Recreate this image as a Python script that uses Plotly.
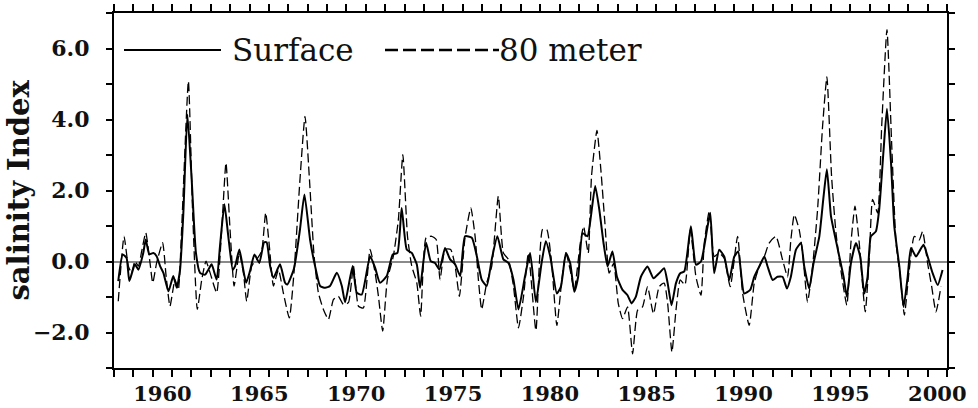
import plotly.graph_objects as go

# ---- data (decimal years, index values) ----
surface_years = [
    1957.72, 1957.95, 1958.15, 1958.29, 1958.58, 1958.76, 1959.01, 1959.14, 1959.32, 1959.53,
    1959.70, 1959.88, 1960.05, 1960.31, 1960.56, 1960.74, 1960.91, 1961.08, 1961.29, 1961.51,
    1961.73, 1961.94, 1962.20, 1962.37, 1962.54, 1962.80, 1962.97, 1963.20, 1963.40, 1963.63,
    1963.75, 1963.97, 1964.14, 1964.32, 1964.52, 1964.75, 1965.00, 1965.25, 1965.38, 1965.56,
    1965.73, 1966.07, 1966.33, 1966.45, 1966.79, 1967.10, 1967.33, 1967.62, 1967.88, 1968.14,
    1968.40, 1968.65, 1969.00, 1969.26, 1969.43, 1969.82, 1970.03, 1970.29, 1970.72, 1970.98,
    1971.23, 1971.58, 1971.89, 1972.13, 1972.35, 1972.61, 1972.87, 1973.13, 1973.30, 1973.61,
    1973.85, 1974.07, 1974.30, 1974.59, 1974.85, 1975.11, 1975.37, 1975.62, 1975.97, 1976.23,
    1976.48, 1976.74, 1977.00, 1977.29, 1977.60, 1977.86, 1978.12, 1978.38, 1978.72, 1978.98,
    1979.28, 1979.57, 1979.79, 1980.02, 1980.36, 1980.57, 1980.83, 1981.05, 1981.26, 1981.46,
    1981.69, 1981.94, 1982.12, 1982.34, 1982.55, 1982.77, 1982.98, 1983.23, 1983.46, 1983.75,
    1984.01, 1984.22, 1984.44, 1984.70, 1985.04, 1985.35, 1985.64, 1985.90, 1986.08, 1986.28,
    1986.51, 1986.73, 1986.94, 1987.28, 1987.54, 1987.80, 1988.14, 1988.28, 1988.48, 1988.74,
    1989.00, 1989.26, 1989.52, 1989.72, 1990.03, 1990.34, 1990.55, 1990.81, 1991.07, 1991.24,
    1991.50, 1991.75, 1992.01, 1992.24, 1992.44, 1992.70, 1992.96, 1993.13, 1993.39, 1993.61,
    1993.91, 1994.13, 1994.30, 1994.51, 1994.72, 1994.94, 1995.16, 1995.33, 1995.54, 1995.80,
    1996.02, 1996.23, 1996.40, 1996.57, 1996.83, 1997.00, 1997.23, 1997.40, 1997.61, 1997.78,
    1998.04, 1998.26, 1998.47, 1998.64, 1998.90, 1999.07, 1999.29, 1999.50, 1999.76, 2000.02,
    2000.27,
]
surface_values = [
    -0.55, 0.20, 0.10, -0.55, -0.08, -0.23, 0.24, 0.62, 0.20, 0.24,
    0.15, -0.13, -0.32, -0.84, -0.41, -0.74, -0.23, 1.37, 4.14, 2.31,
    0.24, -0.32, -0.37, -0.23, -0.08, -0.51, 0.43, 1.61, 0.71, -0.23,
    -0.13, 0.34, -0.13, -0.60, -0.27, 0.20, -0.04, 0.54, 0.54, -0.13,
    -0.46, -0.08, -0.60, -0.65, -0.20, 0.90, 1.89, 0.62, -0.13, -0.69,
    -0.74, -0.69, -0.32, -0.69, -1.15, -0.13, -0.88, -0.93, 0.15, -0.18,
    -0.60, -0.41, 0.20, 0.24, 1.51, 0.34, 0.24, -0.08, -0.74, 0.53,
    0.01, -0.04, -0.23, 0.38, 0.06, -0.08, -0.41, 0.71, 0.67, 0.15,
    -0.51, -0.69, 0.06, 0.71, 0.06, -0.04, -0.51, -1.35, -0.41, 0.24,
    -1.14, -0.05, 0.57, 0.14, -0.90, -0.71, 0.24, -0.05, -0.85, -0.43,
    0.80, 0.71, 1.28, 2.13, 1.47, 0.52, -0.14, 0.28, -0.43, -0.80,
    -0.95, -1.18, -0.99, -0.43, -0.14, -0.47, -0.33, -0.19, -0.61, -1.23,
    -0.61, -0.33, -0.28, 0.99, -0.09, 0.00, 0.99, 1.37, -0.33, 0.33,
    0.14, -0.52, 0.14, 0.28, -0.90, -0.80, -0.43, -0.14, 0.14, -0.14,
    -0.52, -0.43, -0.43, -0.76, -0.43, 0.33, 0.52, -0.14, -0.76, -0.05,
    0.71, 1.84, 2.60, 1.28, 0.71, 0.14, -0.43, -0.99, -0.05, 0.52,
    0.14, -0.90, -0.43, 0.71, 0.85, 1.47, 3.17, 4.30, 2.79, 0.99,
    -0.14, -1.28, -0.43, 0.38, 0.14, 0.28, 0.47, 0.14, -0.33, -0.66,
    -0.24,
]

meter80_years = [
    1957.72, 1958.02, 1958.24, 1958.41, 1958.58, 1958.76, 1958.93, 1959.14, 1959.36, 1959.50,
    1959.70, 1960.01, 1960.19, 1960.39, 1960.65, 1960.82, 1960.99, 1961.34, 1961.56, 1961.80,
    1962.03, 1962.25, 1962.46, 1962.80, 1963.06, 1963.28, 1963.49, 1963.70, 1963.97, 1964.18,
    1964.35, 1964.61, 1964.87, 1965.12, 1965.33, 1965.52, 1965.73, 1965.99, 1966.24, 1966.55,
    1966.79, 1967.10, 1967.36, 1967.59, 1967.83, 1968.05, 1968.31, 1968.57, 1968.83, 1969.08,
    1969.34, 1969.60, 1969.86, 1970.12, 1970.37, 1970.72, 1970.98, 1971.15, 1971.37, 1971.61,
    1971.92, 1972.18, 1972.41, 1972.65, 1972.87, 1973.13, 1973.33, 1973.61, 1973.90, 1974.13,
    1974.33, 1974.59, 1974.88, 1975.11, 1975.33, 1975.62, 1975.92, 1976.14, 1976.31, 1976.48,
    1976.74, 1977.00, 1977.34, 1977.60, 1977.86, 1978.12, 1978.38, 1978.64, 1978.89, 1979.28,
    1979.62, 1979.84, 1980.09, 1980.36, 1980.60, 1980.83, 1981.05, 1981.26, 1981.57, 1981.74,
    1981.98, 1982.15, 1982.43, 1982.63, 1982.84, 1983.06, 1983.29, 1983.53, 1983.75, 1984.01,
    1984.27, 1984.53, 1984.78, 1985.04, 1985.35, 1985.64, 1985.90, 1986.08, 1986.30, 1986.51,
    1986.73, 1986.97, 1987.25, 1987.54, 1987.80, 1987.97, 1988.23, 1988.48, 1988.74, 1989.00,
    1989.31, 1989.69, 1989.95, 1990.29, 1990.55, 1990.81, 1991.07, 1991.32, 1991.67, 1992.01,
    1992.27, 1992.44, 1992.62, 1992.87, 1993.05, 1993.30, 1993.56, 1993.82, 1994.08, 1994.30,
    1994.54, 1994.77, 1995.02, 1995.33, 1995.54, 1995.75, 1995.97, 1996.28, 1996.49, 1996.66,
    1996.92, 1997.13, 1997.40, 1997.64, 1997.87, 1998.09, 1998.30, 1998.55, 1998.81, 1999.07,
    1999.24, 1999.50, 1999.71, 1999.93, 2000.19,
]
meter80_values = [
    -1.12, 0.71, -0.13, -0.32, 0.01, -0.13, 0.29, 0.81, -0.04, -0.60,
    -0.04, 0.53, -0.41, -1.26, -0.51, -0.79, 0.90, 5.08, 1.37, -1.35,
    -0.51, 0.01, -0.32, -0.88, 0.90, 2.78, 0.90, -0.69, 0.24, -0.32,
    -1.12, -0.13, 0.06, 0.29, 1.37, 0.43, -0.69, -0.23, -0.88, -1.59,
    -0.32, 2.31, 4.09, 2.31, 0.15, -0.88, -1.35, -1.63, -1.07, -0.98,
    -1.21, -1.16, -0.13, -1.26, -1.31, 0.34, -0.32, -0.98, -1.96, -0.51,
    0.15, 1.18, 3.01, 0.71, -0.13, -0.60, -1.54, 0.67, 0.71, 0.62,
    -0.51, 0.34, 0.34, -0.13, -0.98, 0.67, 1.51, 0.71, -0.51, -1.35,
    -0.60, -0.13, 1.84, 0.24, 0.06, -0.69, -1.87, -0.98, 0.24, -1.94,
    0.90, 0.90, -0.05, -1.80, -0.61, 0.24, -0.24, -0.80, 0.52, 0.99,
    0.24, 2.41, 3.69, 2.60, 1.09, -0.33, -0.05, -1.18, -1.61, -1.28,
    -2.60, -1.37, -1.28, -0.71, -1.47, -0.71, -0.61, -1.18, -2.55, -1.37,
    -0.52, -0.66, 0.90, -0.43, -0.95, 0.52, 1.42, 0.14, 0.24, 0.09,
    -0.71, 0.71, -0.90, -1.80, -0.61, -0.14, 0.14, 0.52, 0.71, 0.05,
    -0.43, 0.61, 1.32, 0.90, 0.24, -1.14, -0.14, 1.47, 3.83, 5.20,
    2.41, 0.80, -0.24, -1.23, 0.52, 1.56, 0.52, -1.42, 0.14, 1.75,
    1.37, 3.83, 6.53, 3.36, 0.52, -0.43, -1.51, -0.24, 0.71, 0.61,
    0.85, -0.05, -0.71, -1.42, -0.71,
]

year_labels = [1960, 1965, 1970, 1975, 1980, 1985, 1990, 1995, 2000]
value_ticks = [-2, 0, 2, 4, 6]
series_names = ["Surface", "80 meter"]

SERIF = "DejaVu Serif"

fig = go.Figure()
fig.add_trace(go.Scatter(
    x=meter80_years, y=meter80_values, mode="lines", name=series_names[1],
    line=dict(color="black", width=1.3, dash="9px,4px", shape="spline", smoothing=0.5),
    showlegend=False,
))
fig.add_trace(go.Scatter(
    x=surface_years, y=surface_values, mode="lines", name=series_names[0],
    line=dict(color="black", width=2, shape="spline", smoothing=0.5),
    showlegend=False,
))

fig.update_layout(
    width=978, height=408,
    margin=dict(l=114, r=31, t=13, b=40),
    paper_bgcolor="white", plot_bgcolor="white",
    showlegend=False,
    xaxis=dict(
        range=[1957.5, 2000.5], automargin=False,
        tickmode="array", tickvals=year_labels, ticktext=[str(v) for v in year_labels],
        ticks="", showgrid=False, zeroline=False,
        showline=True, linecolor="black", linewidth=2, mirror="ticks",
        tickfont=dict(family=SERIF, size=21, color="#111", weight="bold"),
        ticklabelstandoff=6,
        minor=dict(tick0=1957.5, dtick=1, ticks="outside", ticklen=7,
                   tickwidth=1.6, tickcolor="black", showgrid=False),
    ),
    yaxis=dict(
        range=[-3, 7], automargin=False,
        tickmode="array", tickvals=value_ticks,
        tickformat=".1f",
        ticks="outside", ticklen=6, tickwidth=1.6, tickcolor="black",
        showgrid=False,
        zeroline=True, zerolinecolor="#8a8a8a", zerolinewidth=1.6,
        showline=True, linecolor="black", linewidth=2, mirror="ticks",
        tickfont=dict(family=SERIF, size=22, color="#111", weight="bold"),
        ticklabelstandoff=12,
        minor=dict(tick0=-3, dtick=1, ticks="outside", ticklen=6,
                   tickwidth=1.6, tickcolor="black", showgrid=False),
    ),
)

# Y-axis title as rotated text
fig.add_annotation(
    text="salinity Index", textangle=-90,
    xref="paper", yref="paper", x=0, y=0.5, xshift=-96,
    xanchor="center", yanchor="middle", showarrow=False,
    font=dict(family=SERIF, size=29, color="#111", weight="bold"),
)

# Legend drawn inside the plot (top-left)
leg_y = (368 - 50) / 355
fig.add_shape(type="line", xref="paper", yref="paper",
              x0=(124 - 114) / 833, x1=(221 - 114) / 833, y0=leg_y, y1=leg_y,
              line=dict(color="black", width=2))
fig.add_annotation(text=series_names[0], xref="paper", yref="paper",
                   x=(230 - 114) / 833, y=leg_y, xanchor="left", yanchor="middle",
                   showarrow=False, font=dict(family=SERIF, size=31, color="#111"))
fig.add_shape(type="line", xref="paper", yref="paper",
              x0=(385 - 114) / 833, x1=(499 - 114) / 833, y0=leg_y, y1=leg_y,
              line=dict(color="black", width=2.5, dash="13px,5px"))
fig.add_annotation(text=series_names[1], xref="paper", yref="paper",
                   x=(497 - 114) / 833, y=leg_y, xanchor="left", yanchor="middle",
                   showarrow=False, font=dict(family=SERIF, size=31, color="#111"))

fig.write_html("out.html")
